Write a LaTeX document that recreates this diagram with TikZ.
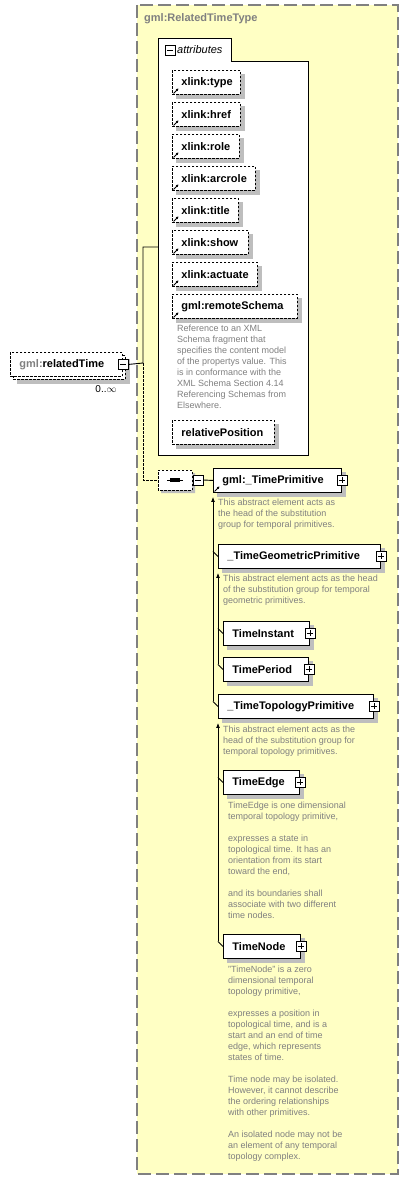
\documentclass[tikz,border=0pt]{standalone}
\usepackage{fontspec}
\setmainfont{Liberation Sans}
\usetikzlibrary{shapes.misc,arrows.meta}
\definecolor{bgyellow}{RGB}{255,255,196}
\definecolor{shadowgray}{RGB}{190,190,190}
\definecolor{descgray}{RGB}{128,128,128}
\definecolor{framegray}{RGB}{128,128,128}
\pgfdeclarelayer{back}
\pgfdeclarelayer{shadows}
\pgfsetlayers{back,shadows,main}

\begin{document}
\begin{tikzpicture}[x=1pt,y=-1pt,
    elem/.style={rectangle, draw, line width=0.9pt, fill=white, anchor=north west,
      minimum height=24, inner xsep=9, inner ysep=0, text width=#1, align=left,
      font=\fontsize{11}{13}\selectfont\bfseries},
    attr/.style={elem=#1, dash pattern=on 2.5pt off 1.5pt},
    desc/.style={anchor=north west, inner sep=0, align=left, text=descgray,
      font=\fontsize{9}{11}\selectfont},
    mbox/.style={draw, fill=white, line width=0.8pt, minimum size=10, inner sep=0,
      path picture={\draw[line width=0.8pt] ([xshift=2pt]path picture bounding box.west)
        -- ([xshift=-2pt]path picture bounding box.east);}},
    pbox/.style={mbox, path picture={\draw[line width=0.8pt]
        ([xshift=2pt]path picture bounding box.west) -- ([xshift=-2pt]path picture bounding box.east)
        ([yshift=-2pt]path picture bounding box.north) -- ([yshift=2pt]path picture bounding box.south);}},
    seqbox/.style={chamfered rectangle, chamfered rectangle xsep=4pt, chamfered rectangle ysep=4pt,
      minimum width=34, minimum height=20, inner sep=0},
    link/.style={line width=0.9pt},
    up/.style={link, -{Latex[length=5pt,width=4pt]}}]

  \useasboundingbox (0,0) rectangle (409,1180);

  % complex type frame
  \begin{pgfonlayer}{back}
  \draw[framegray, fill=bgyellow, line width=1.3pt, dash pattern=on 13pt off 5pt] (137,5) rectangle (398,1174);
  \draw[link, fill=white] (158,455) -- (158,38) -- (231,38) -- (231,61) -- (308,61) -- (308,455) -- cycle;
  \end{pgfonlayer}
  \node[anchor=west, inner sep=0, text=framegray, font=\fontsize{11}{13}\selectfont\bfseries] (title) at (144,19) {gml:RelatedTimeType};

  % attributes
  \node[mbox] (attm) at (170,50) {};
  \node[anchor=west, inner sep=1, font=\fontsize{11}{13}\selectfont\itshape] (attl) at (176,50) {attributes};
  \coordinate (attrin) at (158,247);

  \node[attr=50] (atype) at (172,70) {xlink:type};
  \node[attr=50] (ahref) at (172,102) {xlink:href};
  \node[attr=49] (arole) at (172,134) {xlink:role};
  \node[attr=65] (aarcrole) at (172,166) {xlink:arcrole};
  \node[attr=48] (atitle) at (172,198) {xlink:title};
  \node[attr=58] (ashow) at (172,230) {xlink:show};
  \node[attr=67] (aactuate) at (172,262) {xlink:actuate};
  \node[attr=107] (aschema) at (172,294) {gml:remoteSchema};
  \node[desc] (schemadesc) at (177,325) {Reference to an XML\\Schema fragment that\\specifies the content model\\of the propertys value. This\\is in conformance with the\\XML Schema Section 4.14\\Referencing Schemas from\\Elsewhere.};
  \node[attr=84] (arelpos) at (172,420) {relativePosition};

  % the element
  \node[attr=94] (rtb) at (13,355) {};
  \node[attr=94] (rt) at (10,352) {{\color{descgray}gml:}relatedTime};
  \node[mbox] (rtm) at (rt.east) {};
  \node[inner sep=0, font=\fontsize{10}{12}\selectfont] (occ) at (106,389) {0..$\infty$};

  % sequence
  \node[seqbox, draw, fill=white, link, dash pattern=on 2.5pt off 1.5pt] (seq) at (175,480) {};
  \draw[link] ([xshift=-8pt]seq.center) -- ([xshift=8pt]seq.center);
  \foreach \dx in {-3.5,0,3.5}
    \fill ([xshift=\dx pt]seq.center) +(-1.6,-1.6) rectangle +(1.6,1.6);
  \node[mbox] (seqm) at (198,480) {};

  % substitution group
  \node[elem=110] (tp) at (213,468) {gml:\_TimePrimitive};
  \node[desc] (tpdesc) at (218,499) {This abstract element acts as\\the head of the substitution\\group for temporal primitives.};
  \node[elem=144] (geo) at (218,544) {\_TimeGeometricPrimitive};
  \node[desc] (geodesc) at (223,575) {This abstract element acts as the head\\of the substitution group for temporal\\geometric primitives.};
  \node[elem=68] (instant) at (223,621) {TimeInstant};
  \node[elem=67] (period) at (223,657) {TimePeriod};
  \node[elem=137] (topo) at (218,694) {\_TimeTopologyPrimitive};
  \node[desc] (topodesc) at (223,726) {This abstract element acts as the\\head of the substitution group for\\temporal topology primitives.};
  \node[elem=58] (tedge) at (223,770) {TimeEdge};
  \node[desc] (edgedesc) at (228,802) {TimeEdge is one dimensional\\temporal topology primitive,\\[11pt]expresses a state in\\topological time. It has an\\orientation from its start\\toward the end,\\[11pt]and its boundaries shall\\associate with two different\\time nodes.};
  \node[elem=59] (tnode) at (223,934) {TimeNode};
  \node[desc] (nodedesc) at (228,966) {"TimeNode" is a zero\\dimensional temporal\\topology primitive,\\[11pt]expresses a position in\\topological time, and is a\\start and an end of time\\edge, which represents\\states of time.\\[11pt]Time node may be isolated.\\However, it cannot describe\\the ordering relationships\\with other primitives.\\[11pt]An isolated node may not be\\an element of any temporal\\topology complex.};

  \node[pbox] (tpp) at (tp.east) {};
  \node[pbox] (geop) at (geo.east) {};
  \node[pbox] (instantp) at (instant.east) {};
  \node[pbox] (periodp) at (period.east) {};
  \node[pbox] (topop) at (topo.east) {};
  \node[pbox] (tedgep) at (tedge.east) {};
  \node[pbox] (tnodep) at (tnode.east) {};

  % shadows
  \begin{pgfonlayer}{shadows}
  \foreach \n in {atype,ahref,arole,aarcrole,atitle,ashow,aactuate,aschema,arelpos,rtb,
                  tp,geo,instant,period,topo,tedge,tnode}
    \fill[shadowgray] ([xshift=4pt,yshift=-4pt]\n.north west) rectangle ([xshift=4pt,yshift=-4pt]\n.south east);
  \node[seqbox, fill=shadowgray] (seqshadow) at ([xshift=3pt,yshift=-3pt]seq.center) {};
  \end{pgfonlayer}

  % reference marks
  \foreach \n in {atype,ahref,arole,aarcrole,atitle,ashow,aactuate,aschema,tp}
    \draw[link, -{Latex[length=2.5pt,width=3pt]}] ([xshift=1.5pt,yshift=1.5pt]\n.south west) -- ++(5,-5);

  % connectors
  \coordinate (jn) at (143,363);
  \draw[link] (rtm.east) -- (jn) |- (attrin);
  \draw[link, dash pattern=on 2.5pt off 1.5pt] (jn) |- (seq.west);
  \draw[link] (seqm.east) -- (tp.west);

  \draw[up] ([xshift=-5pt,yshift=5pt]topo.west) -- ([yshift=-4pt]tp.south west);
  \draw[link] ([xshift=-5pt,yshift=5pt]geo.west) -- (geo.west);
  \draw[link] ([xshift=-5pt,yshift=5pt]topo.west) -- (topo.west);

  \draw[up] ([xshift=-5pt,yshift=5pt]period.west) -- ([yshift=-4pt]geo.south west);
  \draw[link] ([xshift=-5pt,yshift=5pt]instant.west) -- (instant.west);
  \draw[link] ([xshift=-5pt,yshift=5pt]period.west) -- (period.west);

  \draw[up] ([xshift=-5pt,yshift=5pt]tnode.west) -- ([yshift=-4pt]topo.south west);
  \draw[link] ([xshift=-5pt,yshift=5pt]tedge.west) -- (tedge.west);
  \draw[link] ([xshift=-5pt,yshift=5pt]tnode.west) -- (tnode.west);

\end{tikzpicture}
\end{document}
